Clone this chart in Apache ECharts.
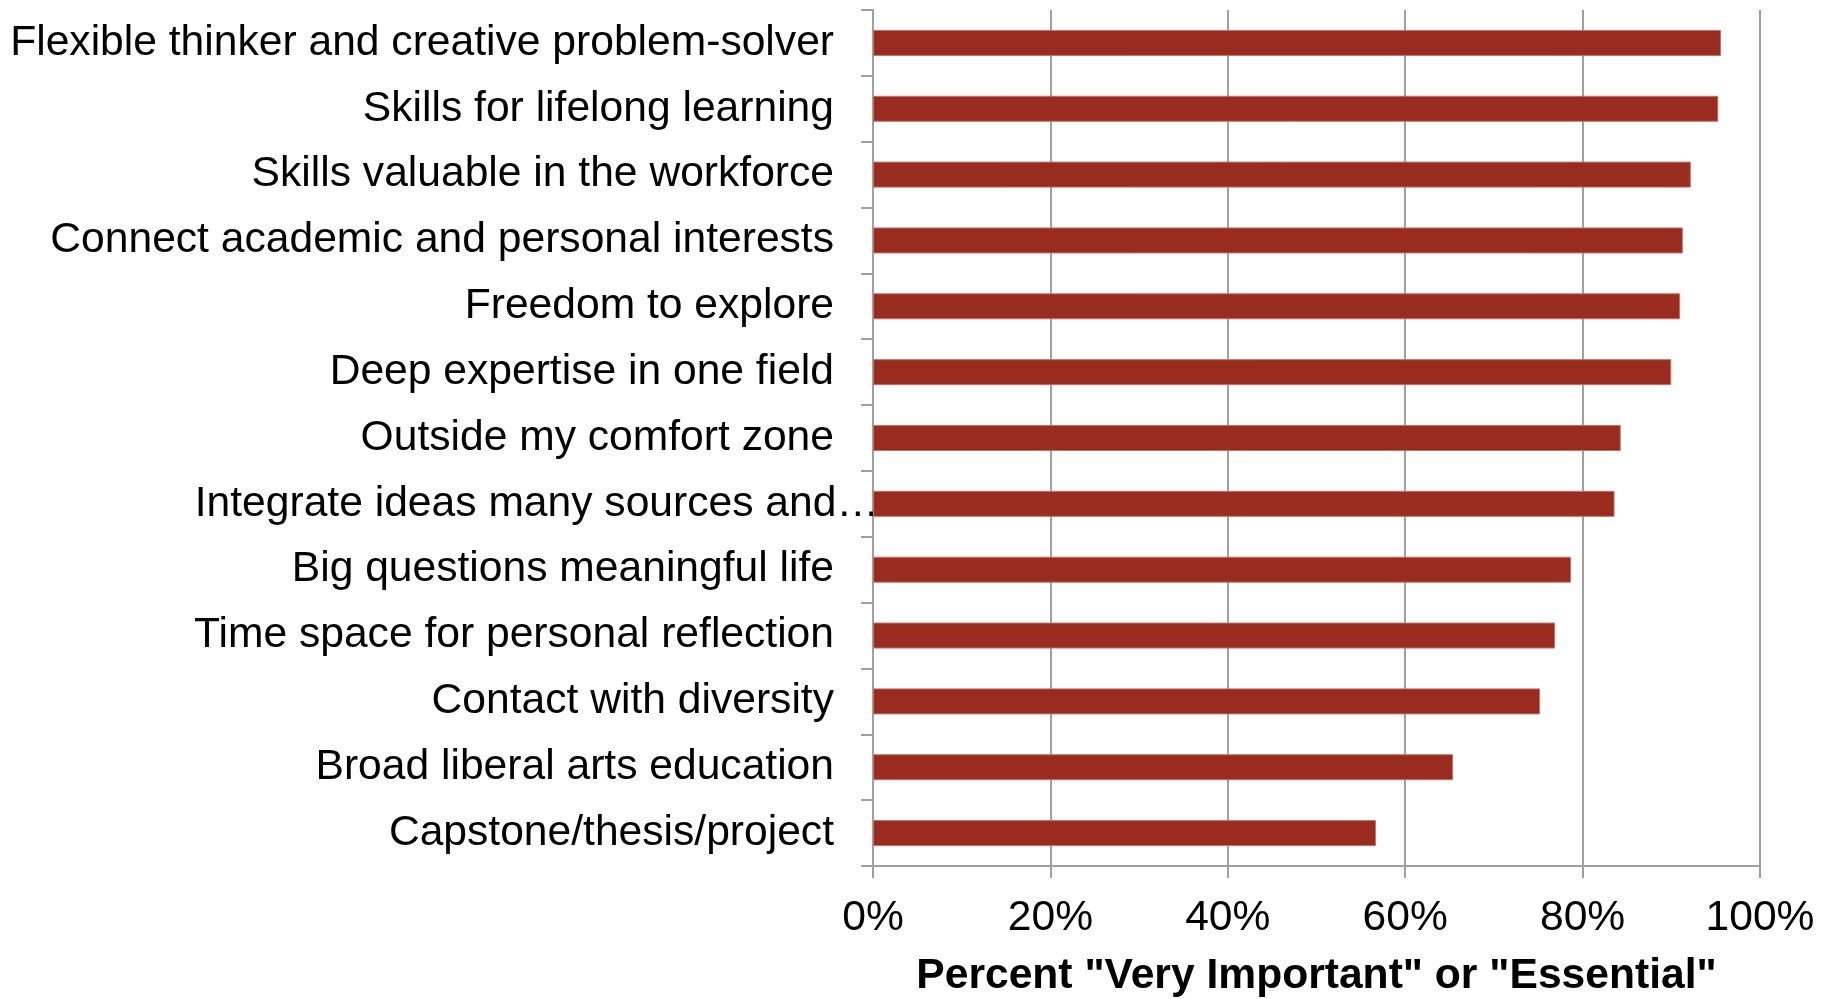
<!DOCTYPE html>
<html>
<head>
<meta charset="utf-8">
<script src="https://cdn.jsdelivr.net/npm/echarts@6/dist/echarts.min.js"></script>
<style>
html,body{margin:0;padding:0;background:#fff;}
#chart{width:1822px;height:999px;}
</style>
</head>
<body>
<div id="chart"></div>
<script>
const categories = [
  "Flexible thinker and creative problem-solver",
  "Skills for lifelong learning",
  "Skills valuable in the workforce",
  "Connect academic and personal interests",
  "Freedom to explore",
  "Deep expertise in one field",
  "Outside my comfort zone",
  "Integrate ideas many sources and\u2026",
  "Big questions meaningful life",
  "Time space for personal reflection",
  "Contact with diversity",
  "Broad liberal arts education",
  "Capstone/thesis/project"
];
const values = [95.6, 95.3, 92.2, 91.3, 91.0, 90.0, 84.3, 83.6, 78.7, 76.9, 75.2, 65.4, 56.7];
const xTicks = [0, 20, 40, 60, 80, 100];
const axisTitle = 'Percent "Very Important" or "Essential"';

const FONT = '"Liberation Sans", Arial, sans-serif';
const FS = 42.6;
const GRID = '#a0a0a0';

const chart = echarts.init(document.getElementById('chart'), null, {renderer: 'canvas'});
chart.setOption({
  animation: false,
  backgroundColor: '#ffffff',
  grid: {left: 873, right: 62, top: 10, bottom: 133, containLabel: false, outerBoundsMode: 'none'},
  xAxis: {
    type: 'value',
    min: xTicks[0],
    max: xTicks[xTicks.length - 1],
    interval: xTicks[1] - xTicks[0],
    name: axisTitle,
    nameLocation: 'middle',
    nameGap: 89,
    nameTextStyle: {fontFamily: FONT, fontSize: FS, fontWeight: 'bold', color: '#000'},
    axisLine: {show: true, lineStyle: {color: GRID, width: 2}},
    axisTick: {show: true, length: 12, lineStyle: {color: GRID, width: 2}},
    axisLabel: {formatter: '{value}%', fontFamily: FONT, fontSize: FS, color: '#000', margin: 31},
    splitLine: {show: true, lineStyle: {color: GRID, width: 2}}
  },
  yAxis: {
    type: 'category',
    inverse: true,
    data: categories.map((c, i) => i === 7 ? {value: c, textStyle: {padding: [5, -45, 0, 0]}} : c),
    axisLine: {show: true, lineStyle: {color: GRID, width: 2}},
    axisTick: {show: true, length: 12, lineStyle: {color: GRID, width: 2}},
    axisLabel: {fontFamily: FONT, fontSize: FS, color: '#000', margin: 39, padding: [5, 0, 0, 0]},
    splitLine: {show: false}
  },
  series: [{
    type: 'bar',
    data: values,
    barWidth: 26,
    itemStyle: {color: '#9a2c1f', borderColor: '#c0736a', borderWidth: 1}
  }]
});
</script>
</body>
</html>
